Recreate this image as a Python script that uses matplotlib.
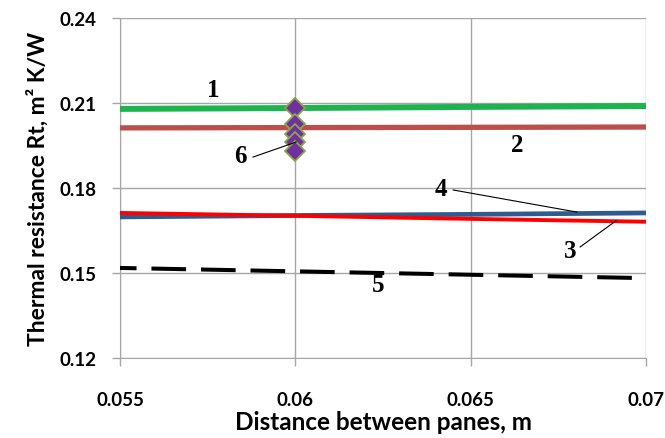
import matplotlib.pyplot as plt

# data
dist = [0.055, 0.06, 0.065, 0.07]
rt_1 = [0.2079, 0.2082, 0.2086, 0.2089]
rt_2 = [0.2012, 0.2013, 0.2014, 0.2015]
rt_3 = [0.1712, 0.1702, 0.1691, 0.1681]
rt_4 = [0.1698, 0.1703, 0.1707, 0.1712]
rt_5 = [0.1518, 0.1506, 0.1494, 0.1482]
dist_6 = [0.06, 0.06, 0.06, 0.06, 0.06]
rt_6 = [0.2082, 0.2026, 0.1991, 0.1961, 0.1931]

x_ticks = [0.055, 0.06, 0.065, 0.07]
x_tick_labels = ['0.055', '0.06', '0.065', '0.07']
y_ticks = [0.12, 0.15, 0.18, 0.21, 0.24]
y_tick_labels = ['0.12', '0.15', '0.18', '0.21', '0.24']

plt.rcParams['font.family'] = ['Lato', 'DejaVu Sans']

fig = plt.figure(figsize=(6.65, 4.39), dpi=100)
ax = fig.add_axes([0.1805, 0.182, 0.791, 0.775])

ax.plot(dist, rt_1, color='#1db34f', lw=4.3, solid_capstyle='butt', zorder=3)
ax.plot(dist, rt_2, color='#bb4f4c', lw=3.8, solid_capstyle='butt', zorder=3)
ax.plot(dist, rt_4, color='#2f5b8e', lw=3.4, solid_capstyle='butt', zorder=3)
ax.plot(dist, rt_3, color='#ff0000', lw=2.8, solid_capstyle='butt', zorder=3)
ax.plot(dist, rt_5, color='black', lw=2.9, ls=(4.5, (8.6, 3.7)), zorder=3)
ax.plot(dist_6, rt_6, ls='none', marker='D', ms=10, mfc='#7030a0',
        mec='#8aa64a', mew=1.3, zorder=4)

ax.set_xlim(0.055, 0.07)
ax.set_ylim(0.12, 0.24)
ax.set_xticks(x_ticks)
ax.set_xticklabels(x_tick_labels)
ax.set_yticks(y_ticks)
ax.set_yticklabels(y_tick_labels)
ax.grid(True, color='#a6a6a6', lw=1.0, zorder=0)
for side in ['top', 'right']:
    ax.spines[side].set_visible(False)
for side in ['left', 'bottom']:
    ax.spines[side].set_color('#a6a6a6')
ax.tick_params(colors='#a6a6a6', labelcolor='black', length=6, width=1,
               labelsize=13.5)
for lab in ax.get_xticklabels() + ax.get_yticklabels():
    lab.set_fontweight('bold')
ax.tick_params(axis='x', pad=18)
ax.tick_params(axis='y', pad=11)

ax.set_xlabel('Distance between panes, m', fontsize=17.5, fontweight='bold',
              labelpad=1)
ax.set_ylabel('Thermal resistance Rt, m\u00b2 K/W', fontsize=16.5,
              fontweight='bold', labelpad=8)

num_font = dict(family='Liberation Serif', fontsize=18, fontweight='bold',
                ha='center', va='center')
ax.text(0.05765, 0.2149, '1', **num_font)
ax.text(0.06632, 0.1955, '2', **num_font)
ax.text(0.06783, 0.1578, '3', **num_font)
ax.text(0.06415, 0.1797, '4', **num_font)
ax.text(0.06236, 0.1461, '5', **num_font)
ax.text(0.05842, 0.1913, '6', **num_font)

lead = dict(color='black', lw=0.8, zorder=5)
ax.plot([0.05879, 0.06002], [0.1909, 0.1962], **lead)
ax.plot([0.06450, 0.06803], [0.1793, 0.1715], **lead)
ax.plot([0.06812, 0.06914], [0.1592, 0.1684], **lead)

fig.savefig('out.png', dpi=100)
